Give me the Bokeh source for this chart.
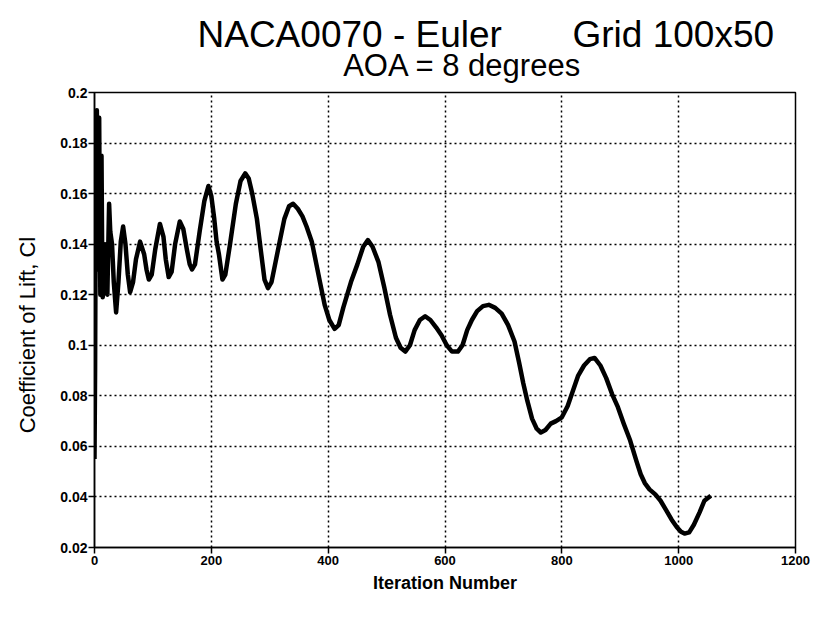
from math import pi
from bokeh.plotting import figure
from bokeh.layouts import column, row
from bokeh.models import Range1d, FixedTicker
from bokeh.core.properties import value
from bokeh.embed import file_html
from bokeh.resources import INLINE

# ---- data ----
iterations = [0, 1, 2, 3, 4, 5, 6, 7, 8, 9, 10, 11, 12, 13, 14, 16, 18, 20, 22, 25,
              27, 30, 33, 37, 41, 45, 49, 53, 57, 61, 66, 71, 78, 85, 89, 93, 98, 104,
              112, 118, 122, 127, 132, 138, 146, 152, 158, 163, 167, 172, 180, 188,
              195, 200, 205, 209, 213, 219, 224, 232, 242, 250, 258, 264, 270, 278,
              285, 291, 297, 303, 310, 317, 325, 333, 340, 348, 356, 363, 372, 379,
              386, 394, 402, 411, 418, 426, 439, 450, 460, 468, 476, 486, 496, 506,
              516, 524, 532, 540, 548, 557, 566, 575, 585, 594, 603, 612, 622, 630,
              638, 646, 655, 665, 675, 686, 697, 708, 719, 727, 734, 741, 749, 757,
              764, 772, 781, 790, 800, 810, 819, 828, 838, 848, 856, 866, 876, 886,
              896, 906, 917, 928, 935, 942, 950, 960, 969, 978, 988, 997, 1004, 1010,
              1018, 1026, 1036, 1044, 1055]
cl = [0.055, 0.090, 0.150, 0.185, 0.193, 0.170, 0.130, 0.160, 0.190, 0.150, 0.120,
      0.160, 0.175, 0.140, 0.119, 0.125, 0.140, 0.128, 0.120, 0.156, 0.145, 0.140,
      0.125, 0.113, 0.125, 0.141, 0.147, 0.140, 0.128, 0.121, 0.125, 0.134, 0.141,
      0.136, 0.130, 0.126, 0.128, 0.138, 0.148, 0.143, 0.134, 0.127, 0.129, 0.140,
      0.149, 0.146, 0.138, 0.132, 0.130, 0.132, 0.145, 0.157, 0.163, 0.159, 0.150,
      0.141, 0.136, 0.126, 0.128, 0.140, 0.156, 0.165, 0.168, 0.166, 0.160, 0.150,
      0.137, 0.126, 0.1226, 0.125, 0.133, 0.141, 0.150, 0.155, 0.156, 0.154, 0.151,
      0.147, 0.141, 0.133, 0.125, 0.116, 0.110, 0.1065, 0.108, 0.115, 0.125, 0.132,
      0.139, 0.1416, 0.139, 0.133, 0.123, 0.112, 0.103, 0.099, 0.0975, 0.100, 0.106,
      0.110, 0.1115, 0.110, 0.107, 0.104, 0.100, 0.0975, 0.0975, 0.100, 0.106, 0.110,
      0.1135, 0.1155, 0.116, 0.1148, 0.1125, 0.108, 0.1015, 0.093, 0.085, 0.078,
      0.071, 0.067, 0.0655, 0.0665, 0.069, 0.070, 0.0715, 0.076, 0.082, 0.088, 0.092,
      0.0945, 0.095, 0.092, 0.087, 0.0807, 0.0755, 0.069, 0.0623, 0.054, 0.049,
      0.0455, 0.043, 0.041, 0.0385, 0.035, 0.031, 0.028, 0.0262, 0.0255, 0.026,
      0.029, 0.034, 0.0385, 0.0405]

x_ticks = [0, 200, 400, 600, 800, 1000, 1200]
y_ticks = [0.02, 0.04, 0.06, 0.08, 0.1, 0.12, 0.14, 0.16, 0.18, 0.2]
y_tick_labels = ["0.02", "0.04", "0.06", "0.08", "0.1", "0.12", "0.14", "0.16", "0.18", "0.2"]

title_left = "NACA0070 - Euler"
title_right = "Grid 100x50"
subtitle = "AOA = 8 degrees"
x_label = "Iteration Number"
y_label = "Coefficient of Lift, Cl"

FONT = "Liberation Sans"
W = 818
TITLE_H = 84
MAIN_H = 613 - TITLE_H
YLAB_W = 40

# ---------- title strip ----------
t = figure(width=W, height=TITLE_H, output_backend="svg", toolbar_location=None,
           x_range=Range1d(0, W), y_range=Range1d(0, TITLE_H),
           min_border=0, outline_line_color=None)
t.axis.visible = False
t.grid.visible = False
t.text(x=[197], y=[50], text=[title_left], text_font=value(FONT),
       text_font_size="37px", text_align="left", text_baseline="alphabetic",
       text_color="black")
t.text(x=[572], y=[50], text=[title_right], text_font=value(FONT),
       text_font_size="37px", text_align="left", text_baseline="alphabetic",
       text_color="black")
t.text(x=[462], y=[19], text=[subtitle], text_font=value(FONT),
       text_font_size="31px", text_align="center", text_baseline="alphabetic",
       text_color="black")

# ---------- y-axis title strip ----------
yl = figure(width=YLAB_W, height=MAIN_H, output_backend="svg", toolbar_location=None,
            x_range=Range1d(0, YLAB_W), y_range=Range1d(0, MAIN_H),
            min_border=0, outline_line_color=None)
yl.axis.visible = False
yl.grid.visible = False
yl.text(x=[27], y=[247], text=[y_label], text_font=value(FONT),
        text_font_size="22px", text_align="center", text_baseline="middle",
        angle=pi / 2, text_color="black")

# ---------- main chart ----------
p = figure(width=W - YLAB_W, height=MAIN_H, output_backend="svg", toolbar_location=None,
           x_range=Range1d(0, 1200), y_range=Range1d(0.02, 0.2),
           min_border_left=54, min_border_right=23, min_border_top=8,
           min_border_bottom=66, background_fill_color="white",
           border_fill_color="white")

p.outline_line_color = "black"
p.outline_line_width = 1.5

for ax in (p.xaxis[0], p.yaxis[0]):
    ax.axis_line_color = "black"
    ax.axis_line_width = 1.5
    ax.major_tick_line_color = "black"
    ax.major_tick_line_width = 1.5
    ax.major_tick_out = 6
    ax.major_tick_in = 0
    ax.minor_tick_line_color = None
    ax.major_label_text_font = FONT
    ax.major_label_text_font_style = "bold"
    ax.major_label_text_color = "black"
    ax.axis_label_text_font = FONT
    ax.axis_label_text_color = "black"

p.xaxis[0].major_label_text_font_size = "13px"
p.yaxis[0].major_label_text_font_size = "14px"
p.xaxis[0].ticker = FixedTicker(ticks=x_ticks)
p.yaxis[0].ticker = FixedTicker(ticks=y_ticks)
p.yaxis[0].major_label_overrides = {tk: s for tk, s in zip(y_ticks, y_tick_labels)}
p.xaxis[0].major_label_standoff = 2
p.yaxis[0].major_label_standoff = 1

p.xaxis[0].axis_label = x_label
p.xaxis[0].axis_label_text_font_size = "18px"
p.xaxis[0].axis_label_text_font_style = "bold"
p.xaxis[0].axis_label_standoff = 5

for g in (p.xgrid[0], p.ygrid[0]):
    g.grid_line_color = "black"
    g.grid_line_width = 1.5
    g.grid_line_dash = "2 3"
    g.grid_line_alpha = 1.0
p.xgrid[0].ticker = FixedTicker(ticks=x_ticks)
p.ygrid[0].ticker = FixedTicker(ticks=y_ticks)

p.line(iterations, cl, line_color="black", line_width=4.5, line_join="round")

layout = column(t, row(yl, p, spacing=0), spacing=0)
open("out.html", "w").write(file_html(layout, INLINE))
